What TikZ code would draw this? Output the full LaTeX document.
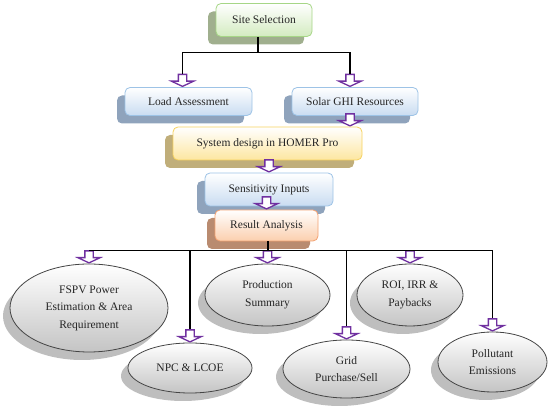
\documentclass[tikz,border=0pt]{standalone}
\usepackage{fontspec}
\setmainfont{Liberation Serif}
\usetikzlibrary{positioning,shapes.geometric,shapes.arrows,shadows}
\definecolor{txt}{HTML}{262626}
\definecolor{arrowpurple}{HTML}{7030A0}
\definecolor{siteline}{HTML}{A6D686}\definecolor{sitefill}{HTML}{D3EBC0}\definecolor{siteshade}{HTML}{A0AF8E}
\definecolor{blueline}{HTML}{9DC3E6}\definecolor{bluefill}{HTML}{C9DCF1}\definecolor{blueshade}{HTML}{8FA3BC}
\definecolor{homerline}{HTML}{F6D25E}\definecolor{homerfill}{HTML}{FDE6A0}\definecolor{homershade}{HTML}{C0AE7A}
\definecolor{resline}{HTML}{F3A272}\definecolor{resfill}{HTML}{FBCFAE}\definecolor{resshade}{HTML}{B98B70}
\definecolor{ovalline}{HTML}{454545}\definecolor{ovalfill}{HTML}{C4C4C4}\definecolor{ovalshade}{HTML}{BEBEBE}
\newcommand\shaft{\phantom{\rule{7pt}{7pt}}}

\begin{document}
\begin{tikzpicture}[x=1pt,y=-1pt,
box/.style={rounded corners=5pt,align=center,line width=0.8pt,text=txt,font=\fontsize{11.5}{13}\selectfont,top color=white},
sitebox/.style={box,draw=siteline,bottom color=sitefill,minimum width=96pt,minimum height=33pt,drop shadow={shadow xshift=-8pt,shadow yshift=-8pt,fill=siteshade,opacity=1}},
bluebox/.style={box,draw=blueline,bottom color=bluefill,drop shadow={shadow xshift=-8pt,shadow yshift=-8pt,fill=blueshade,opacity=1}},
homerbox/.style={box,draw=homerline,bottom color=homerfill,drop shadow={shadow xshift=-8pt,shadow yshift=-8pt,fill=homershade,opacity=1}},
resbox/.style={box,draw=resline,bottom color=resfill,drop shadow={shadow xshift=-8pt,shadow yshift=-8pt,fill=resshade,opacity=1}},
oval/.style={ellipse,draw=ovalline,line width=0.8pt,inner sep=0pt,align=center,text=txt,font=\fontsize{11.5}{17.5}\selectfont,top color=white,bottom color=ovalfill,drop shadow={shadow xshift=-7pt,shadow yshift=-8pt,fill=ovalshade,opacity=1}},
blk/.style={single arrow,shape border rotate=270,draw=arrowpurple,fill=white,line width=1.3pt,inner sep=0pt,minimum height=12pt,minimum width=22pt,single arrow tip angle=130,single arrow head indent=0pt,anchor=tip},
line/.style={line width=1.2pt,black}]
\useasboundingbox (0,0) rectangle (550,411);
% boxes
\node[sitebox] (site) at (264,20) {Site Selection};
\node[bluebox,minimum width=127pt,minimum height=28pt] (load) at (188.5,101.5) {Load Assessment};
\node[bluebox,minimum width=126pt,minimum height=28pt] (solar) at (355,101.5) {Solar GHI Resources};
\node[homerbox,minimum width=189pt,minimum height=33pt] (homer) at (267.5,143.5) {System design in HOMER Pro};
\node[bluebox,minimum width=128pt,minimum height=33pt] (sens) at (269,189.5) {Sensitivity Inputs};
\node[resbox,minimum width=103pt,minimum height=31pt] (res) at (266.5,225.5) {Result Analysis};
% results
\node[oval,minimum width=158pt,minimum height=88pt] (fspv) at (89,308) {FSPV Power\\Estimation \& Area\\Requirement};
\node[oval,minimum width=124pt,minimum height=50pt] (npc) at (190,368) {NPC \& LCOE};
\node[oval,minimum width=125pt,minimum height=62pt] (prod) at (267.5,295) {Production\\Summary};
\node[oval,minimum width=127pt,minimum height=58pt] (grid) at (346.5,369) {Grid\\Purchase/Sell};
\node[oval,minimum width=106pt,minimum height=62pt] (roi) at (410,295) {ROI, IRR \&\\Paybacks};
\node[oval,minimum width=109pt,minimum height=60pt] (poll) at (492.5,362) {Pollutant\\Emissions};
% arrows
\node[blk] (a1) at ([xshift=-6pt]load.north) {\shaft};
\node[blk] (a2) at ([xshift=-5pt]solar.north) {\shaft};
\node[blk] (a3) at (a2 |- homer.north) {\shaft};
\node[blk] (a4) at (sens.north) {\shaft};
\node[blk] (a5) at (res.north) {\shaft};
\node[blk] (b1) at (fspv.north) {\shaft};\node[blk] (b2) at (npc.north) {\shaft};\node[blk] (b3) at (prod.north) {\shaft};
\node[blk] (b4) at (grid.north) {\shaft};\node[blk] (b5) at (roi.north) {\shaft};\node[blk] (b6) at (poll.north) {\shaft};
% connectors
\draw[line] ([xshift=-6pt]site.south) -- ++(0,16) coordinate (t) -| (a1.tail);\draw[line] (t) -| (a2.tail);
\draw[line] ([xshift=1.5pt]res.south) -- ([xshift=1.5pt]res.south |- b3.tail) coordinate (b);
\draw[line] (b) -| (b1.tail);\draw[line] (b) -| (b2.tail);\draw[line] (b) -| (b3.tail);
\draw[line] (b) -| (b4.tail);\draw[line] (b) -| (b5.tail);\draw[line] (b) -| (b6.tail);
\end{tikzpicture}
\end{document}
